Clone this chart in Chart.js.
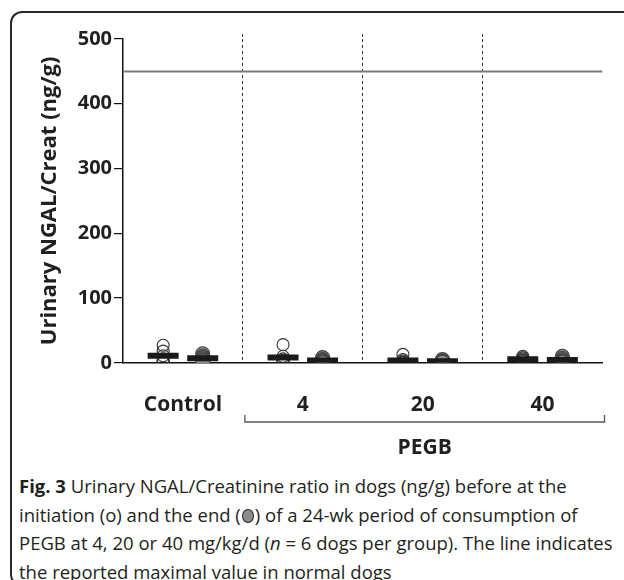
<!DOCTYPE html>
<html>
<head>
<meta charset="utf-8">
<script src="https://cdn.jsdelivr.net/npm/chart.js@4.4.1/dist/chart.umd.min.js"></script>
<style>
  html, body { margin: 0; padding: 0; width: 624px; height: 580px; overflow: hidden; background: #fff; }
  #frame { position: absolute; left: 10px; top: 11px; width: 700px; height: 574px;
           border-top: 2px solid #2b2b2b; border-left: 2px solid #2b2b2b; border-bottom: 2px solid #2b2b2b;
           border-radius: 12px 0 0 10px; box-sizing: border-box; }
  #wrap { position: absolute; left: 0; top: 0; width: 624px; height: 470px; }
  #cap { position: absolute; left: 19px; top: 472px; width: 610px; font-family: "Open Sans", sans-serif;
         font-size: 18.5px; line-height: 28.5px; color: #231f20; white-space: nowrap; }
  #cap b { font-weight: 700; }
  .fc { display: inline-block; width: 10px; height: 12px; border-radius: 50%; background: #8c8c8c;
        border: 1.5px solid #222; vertical-align: -1px; margin: 0 1px; }
</style>
</head>
<body>
<div id="frame"></div>
<div id="wrap"><canvas id="c" width="624" height="470"></canvas></div>
<div id="cap"><b>Fig. 3</b> Urinary NGAL/Creatinine ratio in dogs (ng/g) before at the<br>initiation (o) and the end (<span class="fc"></span>) of a 24-wk period of consumption of<br>PEGB at 4, 20 or 40 mg/kg/d (<i>n</i> = 6 dogs per group). The line indicates<br>the reported maximal value in normal dogs</div>
<script>
// ---- data ----
const groups = ["Control", "4", "20", "40"];
const groupTitle = "PEGB";
// per-dog values (ng/g), 6 dogs per group
const initiationControl = [27, 18, 11, 6, 3, 1];
const initiation4 = [28, 10, 6, 4, 1, 0];
const initiation20 = [13, 5, 3, 1, 0, 0];
const initiation40 = [10, 8, 6, 4, 4, 2];
const endControl = [14, 10, 8, 6, 4, 2];
const end4 = [8, 5, 4, 3, 1, 0];
const end20 = [5, 3, 3, 2, 1, 1];
const end40 = [10, 7, 5, 3, 2, 1];
// group means shown as horizontal bars
const initiationMeans = [11, 8, 3.5, 5.5];
const endMeans = [7, 3.5, 2.5, 4.5];
// reported maximal value in normal dogs
const normalMax = 450;
const yTicks = [0, 100, 200, 300, 400, 500];

const initiation = [initiationControl, initiation4, initiation20, initiation40];
const end = [endControl, end4, end20, end40];

const OFF = 0.165; // horizontal offset of the two timepoints within a group
const pts = (arr, dx) => arr.flatMap((vals, g) => vals.map(v => ({ x: g + dx, y: v })));
const meanPts = (arr, dx) => arr.map((v, g) => ({ x: g + dx, y: v }));

const FONT = "'Open Sans', sans-serif";
const INK = "#231f20";

const bracketPlugin = {
  id: "bracket",
  afterDraw(chart) {
    const x = chart.scales.x;
    const ctx = chart.ctx;
    const x1 = x.getPixelForValue(0.5) + 2;
    const x2 = x.right + 2;
    const y = 422;
    ctx.save();
    ctx.strokeStyle = "#555";
    ctx.lineWidth = 1.3;
    ctx.beginPath();
    ctx.moveTo(x1, y - 7); ctx.lineTo(x1, y); ctx.lineTo(x2, y); ctx.lineTo(x2, y - 7);
    ctx.stroke();
    ctx.fillStyle = INK;
    ctx.font = "bold 21px " + FONT;
    ctx.textAlign = "center";
    ctx.textBaseline = "middle";
    ctx.fillText(groupTitle, (x1 + x2) / 2, 448);
    ctx.restore();
  }
};

new Chart(document.getElementById("c"), {
  type: "scatter",
  data: {
    datasets: [
      { label: "initiation mean", data: meanPts(initiationMeans, -OFF), pointStyle: "line",
        radius: 15.5, borderWidth: 6, borderColor: "#1a1a1a", order: 0 },
      { label: "end mean", data: meanPts(endMeans, OFF), pointStyle: "line",
        radius: 15.5, borderWidth: 6, borderColor: "#1a1a1a", order: 0 },
      { label: "initiation", data: pts(initiation, -OFF), pointStyle: "circle", radius: 6,
        borderWidth: 1.1, borderColor: "#333", backgroundColor: "rgba(255,255,255,0)", order: 1 },
      { label: "end", data: pts(end, OFF), pointStyle: "circle", radius: 7,
        borderWidth: 1.1, borderColor: "#444", backgroundColor: "#8e8e8e", order: 1 },
      { type: "line", label: "normal max", data: [{ x: -0.5, y: normalMax }, { x: 3.5, y: normalMax }],
        borderColor: "#7a7a7a", borderWidth: 2, pointRadius: 0, order: 2 }
    ]
  },
  options: {
    responsive: false,
    animation: false,
    events: [],
    layout: { padding: { left: 36, right: 17, top: 34, bottom: 22 } },
    plugins: { legend: { display: false }, tooltip: { enabled: false } },
    scales: {
      x: {
        type: "linear", position: "bottom", min: -0.5, max: 3.5,
        afterBuildTicks: s => { s.ticks = groups.map((_, i) => ({ value: i })); },
        ticks: { callback: v => groups[v], color: INK, font: { family: FONT, size: 21, weight: "bold" }, padding: 30, autoSkip: false, maxRotation: 0 },
        grid: { display: false, drawTicks: false, tickLength: 0 },
        border: { display: true, color: "#111", width: 1.5 }
      },
      x2: {
        type: "linear", position: "top", min: -0.5, max: 3.5,
        afterBuildTicks: s => { s.ticks = [0.5, 1.5, 2.5].map(v => ({ value: v })); },
        ticks: { display: false },
        grid: { display: true, drawTicks: true, tickLength: 5, color: "#333", lineWidth: 1,
                tickBorderDash: [3, 3] },
        border: { display: false, dash: [3, 3] }
      },
      y: {
        min: 0, max: 500,
        afterBuildTicks: s => { s.ticks = yTicks.map(v => ({ value: v })); },
        afterFit: s => { s.width = 123 - 36; },
        ticks: { color: INK, font: { family: FONT, size: 20, weight: "bold" }, padding: 2 },
        grid: { display: true, drawOnChartArea: false, drawTicks: true, tickLength: 9, color: "#111", lineWidth: 1.2 },
        border: { display: true, color: "#111", width: 1.5 },
        title: { display: true, text: "Urinary NGAL/Creat (ng/g)", color: INK,
                 font: { family: FONT, size: 22, weight: "bold" }, padding: { top: 1, bottom: 0 } }
      }
    }
  },
  plugins: [bracketPlugin]
});
</script>
</body>
</html>
